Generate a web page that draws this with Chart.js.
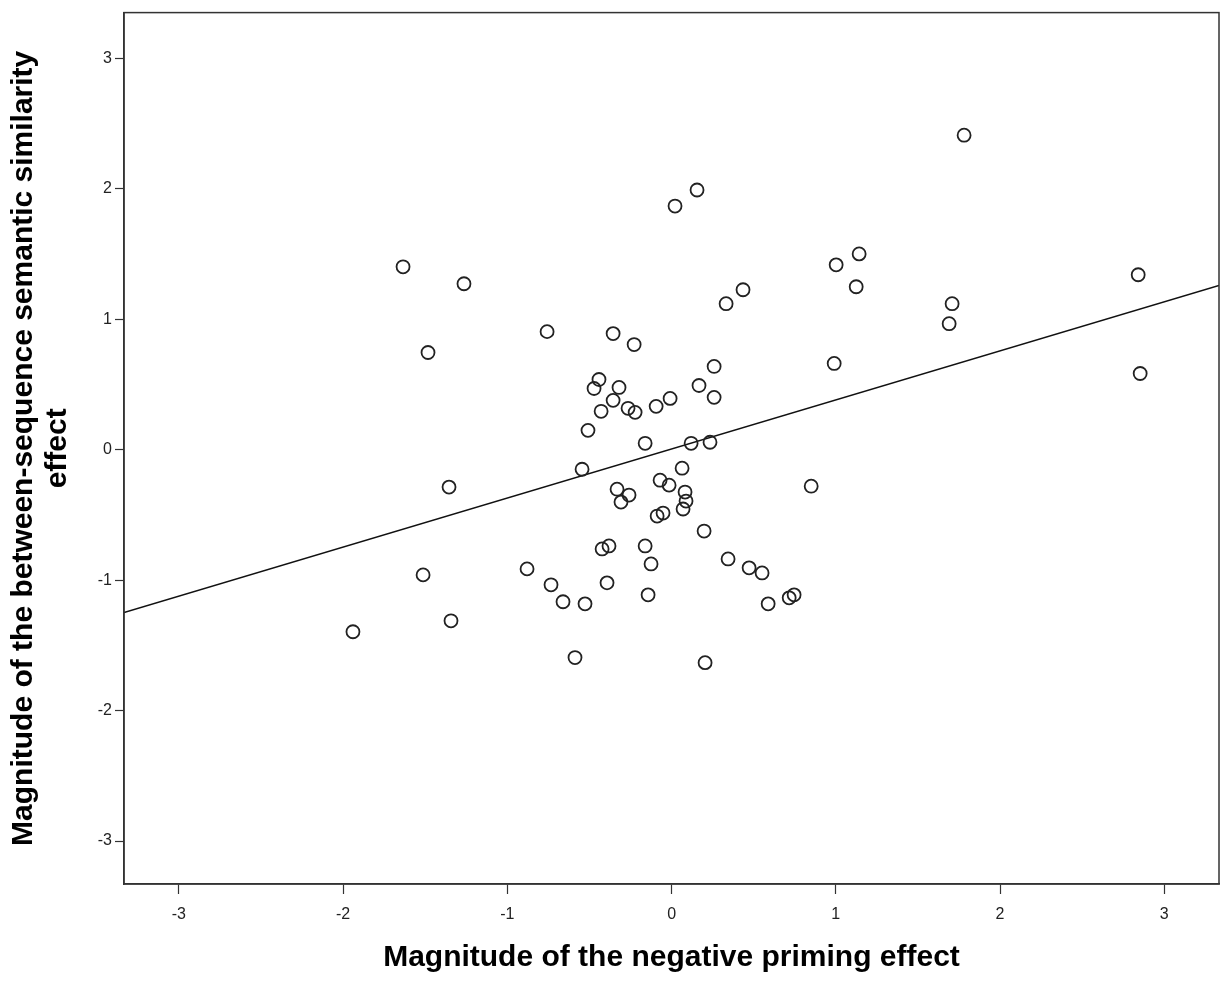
<!DOCTYPE html>
<html>
<head>
<meta charset="utf-8">
<script src="https://cdn.jsdelivr.net/npm/chart.js@4.4.1/dist/chart.umd.min.js"></script>
<style>
  body { margin: 0; background: #fff; }
  canvas { display: block; }
</style>
</head>
<body>
<canvas id="scatterChart" width="1230" height="983"></canvas>
<script>
// values
const primingEffect = [
  1.781, 0.155, 0.021, -1.635, -1.264, 1.142, 1.002, 1.124, 0.435, 0.332,
  2.841, 1.708, 1.690, 2.853, -0.758, -0.356, -0.228, -1.483, 0.990, 0.259,
  -0.442, -0.472, -0.320, 0.167, -0.356, -0.009, 0.259, -0.094, -0.429, -0.265,
  -0.222, -0.509, -0.161, 0.119, 0.234, -0.545, 0.064, -1.355, 0.850, -0.070,
  -0.015, -0.332, -0.259, -0.308, 0.082, 0.088, 0.070, -0.088, -0.052, 0.198,
  -0.423, -0.381, -0.161, 0.344, -0.125, -0.880, 0.472, 0.551, -1.513, -0.734,
  -0.393, -0.143, -0.661, -0.527, 0.588, 0.716, 0.746, -1.343, -1.940, -0.588,
  0.204
];
const similarityEffect = [
  2.412, 1.992, 1.869, 1.403, 1.273, 1.502, 1.418, 1.250, 1.227, 1.120,
  1.342, 1.120, 0.967, 0.585, 0.906, 0.891, 0.807, 0.746, 0.662, 0.639,
  0.539, 0.470, 0.478, 0.493, 0.379, 0.394, 0.402, 0.333, 0.295, 0.318,
  0.287, 0.149, 0.050, 0.050, 0.058, -0.149, -0.141, -0.286, -0.279, -0.233,
  -0.271, -0.302, -0.347, -0.401, -0.324, -0.393, -0.454, -0.508, -0.485, -0.623,
  -0.760, -0.737, -0.737, -0.837, -0.875, -0.913, -0.905, -0.944, -0.959, -1.035,
  -1.020, -1.112, -1.165, -1.181, -1.181, -1.135, -1.112, -1.311, -1.395, -1.593,
  -1.632
];

// fit line end points
const fitX = [-3.334, 3.333];
const fitY = [-1.248, 1.26];

const xTicks = [-3, -2, -1, 0, 1, 2, 3];
const yTicks = [-3, -2, -1, 0, 1, 2, 3];
const xRange = [-3.334, 3.333];
const yRange = [-3.329, 3.352];

const xTitle = "Magnitude of the negative priming effect";
const yTitle = ["Magnitude of the between-sequence semantic similarity", "effect"];

const points = primingEffect.map((x, i) => ({ x: x, y: similarityEffect[i] }));
const fitPoints = fitX.map((x, i) => ({ x: x, y: fitY[i] }));

const frameBox = {
  id: "frameBox",
  afterDatasetsDraw(chart) {
    const a = chart.chartArea;
    const ctx = chart.ctx;
    ctx.save();
    ctx.strokeStyle = "#333";
    ctx.lineWidth = 1.5;
    ctx.strokeRect(a.left, a.top, a.right - a.left, a.bottom - a.top);
    ctx.restore();
  }
};

const titleFont = { family: "'Liberation Sans', Arial, sans-serif", size: 30, weight: "bold", lineHeight: 1.13 };
const tickFont = { family: "'Liberation Sans', Arial, sans-serif", size: 16 };

new Chart(document.getElementById("scatterChart"), {
  type: "scatter",
  data: {
    datasets: [
      {
        data: points,
        pointStyle: "circle",
        pointRadius: 6.5,
        pointHoverRadius: 6.5,
        backgroundColor: "rgba(0,0,0,0)",
        borderColor: "#222",
        borderWidth: 1.8
      },
      {
        data: fitPoints,
        showLine: true,
        pointRadius: 0,
        borderColor: "#111",
        borderWidth: 1.5,
        fill: false
      }
    ]
  },
  options: {
    responsive: false,
    animation: false,
    devicePixelRatio: 1,
    layout: { padding: { top: 10, right: 11, left: 0, bottom: 0 } },
    plugins: {
      legend: { display: false },
      tooltip: { enabled: false }
    },
    scales: {
      x: {
        type: "linear",
        min: xRange[0],
        max: xRange[1],
        afterBuildTicks: scale => { scale.ticks = xTicks.map(v => ({ value: v })); },
        afterFit: scale => { scale.height = 99; },
        grid: { drawOnChartArea: false, drawTicks: true, tickLength: 10, tickColor: "#333", tickWidth: 1.2 },
        border: { display: true, color: "#333", width: 1.5 },
        ticks: { color: "#222", font: tickFont, padding: 11, maxRotation: 0 },
        title: { display: true, text: xTitle, color: "#000", font: titleFont, padding: { top: 0, bottom: 8 } }
      },
      y: {
        type: "linear",
        min: yRange[0],
        max: yRange[1],
        afterBuildTicks: scale => { scale.ticks = yTicks.map(v => ({ value: v })); },
        afterFit: scale => { scale.width = 124; },
        grid: { drawOnChartArea: false, drawTicks: true, tickLength: 9, tickColor: "#333", tickWidth: 1.2 },
        border: { display: true, color: "#333", width: 1.5 },
        ticks: { color: "#222", font: tickFont, padding: 3 },
        title: { display: true, text: yTitle, color: "#000", font: titleFont, padding: { top: 7, bottom: 0 } }
      }
    }
  },
  plugins: [frameBox]
});
</script>
</body>
</html>
